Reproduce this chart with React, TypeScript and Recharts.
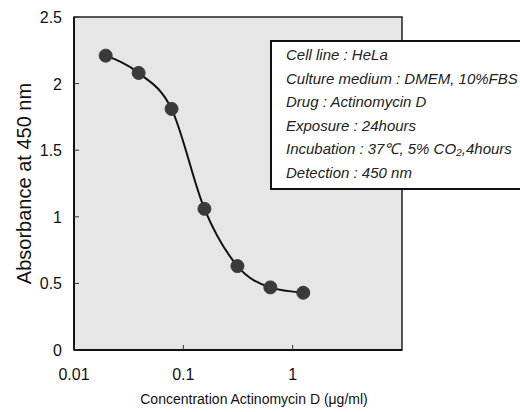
import React from 'react';
import { ComposedChart, Line, XAxis, YAxis, ReferenceArea } from 'recharts';

// serial dilution of Actinomycin D (ug/ml)
const concentrations = [0.0195, 0.039, 0.078, 0.156, 0.3125, 0.625, 1.25];
const absorbance = [2.21, 2.08, 1.81, 1.06, 0.63, 0.47, 0.43];

const xTicks = [0.01, 0.1, 1];
const yTicks = [0, 0.5, 1, 1.5, 2, 2.5];

const conditions = [
  'Cell line : HeLa',
  'Culture medium : DMEM, 10%FBS',
  'Drug : Actinomycin D',
  'Exposure : 24hours',
  'Incubation : 37\u2103, 5% CO\u2082,4hours',
  'Detection : 450 nm',
];

const data = concentrations.map((c, i) => ({ conc: c, abs: absorbance[i] }));

const FONT = "'Liberation Sans', Arial, sans-serif";

const XTick = ({ x, y, payload }: any) => (
  <g>
    <line x1={x} x2={x} y1={y} y2={y - 5} stroke="#333" strokeWidth={1} />
    <text x={x} y={y + 30} textAnchor="middle" fontSize={16} fontFamily={FONT} fill="#111">
      {payload.value}
    </text>
  </g>
);

const YTick = ({ x, y, payload }: any) => (
  <g>
    <line x1={x} x2={x + 5} y1={y} y2={y} stroke="#333" strokeWidth={1} />
    <text x={x - 12} y={y + 6} textAnchor="end" fontSize={16} fontFamily={FONT} fill="#111">
      {payload.value}
    </text>
  </g>
);

const App = () => {
  return (
    <div style={{ position: 'absolute', left: 0, top: 0, width: 520, height: 412, overflow: 'hidden', background: '#fff' }}>
      <ComposedChart width={520} height={412} data={data} margin={{ top: 17, right: 118, left: 0, bottom: 0 }}>
        <ReferenceArea
          x1={0.01}
          x2={10}
          y1={0}
          y2={2.5}
          fill="#e6e6e6"
          fillOpacity={1}
          stroke="#222"
          strokeWidth={1.5}
        />
        <XAxis
          dataKey="conc"
          type="number"
          scale="log"
          domain={[0.01, 10]}
          ticks={xTicks}
          allowDataOverflow
          height={62}
          tickSize={0}
          tickMargin={0}
          tick={<XTick />}
          tickLine={false}
          axisLine={{ stroke: '#111', strokeWidth: 2 }}
          label={({ viewBox }: any) => (
            <text
              x={viewBox.x + viewBox.width / 2 + 16}
              y={viewBox.y + 54}
              textAnchor="middle"
              fontSize={14}
              fontFamily={FONT}
              fill="#111"
            >
              Concentration Actinomycin D (μg/ml)
            </text>
          )}
        />
        <YAxis
          type="number"
          domain={[0, 2.5]}
          ticks={yTicks}
          width={74}
          tickSize={0}
          tickMargin={0}
          tick={<YTick />}
          tickLine={false}
          axisLine={{ stroke: '#111', strokeWidth: 2 }}
          label={({ viewBox }: any) => (
            <text
              x={24}
              y={viewBox.y + viewBox.height / 2}
              transform={`rotate(-90, 24, ${viewBox.y + viewBox.height / 2})`}
              textAnchor="middle"
              dominantBaseline="central"
              fontSize={20}
              fontFamily={FONT}
              fill="#111"
            >
              Absorbance at 450 nm
            </text>
          )}
        />
        <Line
          type="monotone"
          dataKey="abs"
          stroke="#111"
          strokeWidth={2}
          dot={{ r: 6.5, fill: '#3a3a3a', stroke: '#3a3a3a', strokeWidth: 1 }}
          isAnimationActive={false}
        />
      </ComposedChart>
      <div
        style={{
          position: 'absolute',
          left: 270,
          top: 40,
          width: 250,
          height: 150,
          boxSizing: 'border-box',
          background: '#fff',
          borderTop: '2px solid #111',
          borderLeft: '2.5px solid #111',
          borderBottom: '2.5px solid #111',
          paddingLeft: 14,
          paddingTop: 1,
          fontFamily: FONT,
          fontStyle: 'italic',
          fontSize: 15,
          lineHeight: '23.5px',
          color: '#222',
        }}
      >
        {conditions.map((c) => (
          <div key={c}>{c}</div>
        ))}
      </div>
    </div>
  );
};

export default App;
